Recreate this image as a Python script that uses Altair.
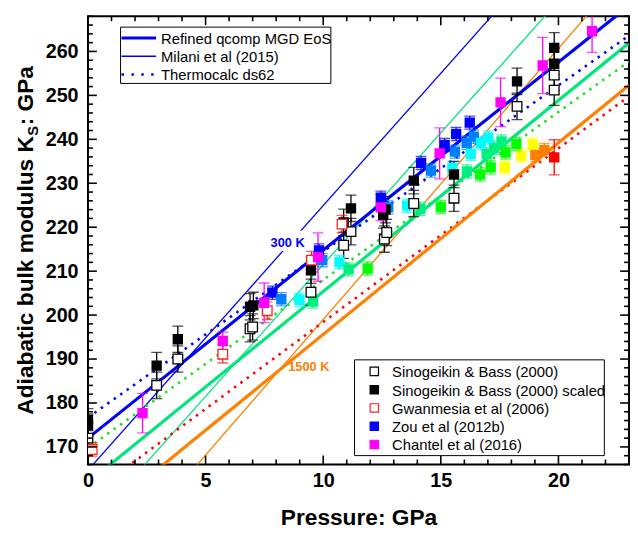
import altair as alt
import pandas as pd

FONT = "Liberation Sans"

# ---------------- data ----------------
# model curves: K_S (GPa) read at P = 0 and P = 23 GPa
curve_P = [0.0, 23.0]
refined_300 = [172.0, 270.4]
refined_mid = [161.9, 261.9]
refined_1500 = [152.0, 252.3]
milani_300 = [164.7, 303.2]
milani_mid = [151.5, 289.5]
milani_1500 = [137.3, 279.2]
thermo_300 = [176.7, 263.6]
thermo_mid = [169.8, 257.7]
thermo_1500 = [158.9, 249.8]

# Sinogeikin & Bass (2000), open black
sb_P = [0.0, 2.92, 3.82, 6.89, 7.0, 9.48, 10.87, 11.18, 12.6, 12.7, 13.85, 15.56, 18.24, 19.82, 19.82]
sb_K = [172.0, 184.0, 190.0, 196.9, 197.3, 205.2, 215.9, 219.0, 217.3, 218.8, 225.4, 226.6, 247.5, 254.6, 251.2]
sb_err = [2.5, 3.0, 3.0, 3.0, 3.0, 3.0, 3.0, 3.0, 3.0, 3.0, 3.0, 3.0, 3.0, 3.5, 3.5]

# Sinogeikin & Bass (2000) scaled, filled black
sbs_P = [0.0, 0.0, 2.92, 3.82, 6.89, 7.03, 9.48, 10.87, 11.18, 12.55, 12.65, 13.85, 15.56, 18.24, 19.82, 19.82]
sbs_K = [176.2, 175.0, 188.5, 194.5, 201.9, 202.2, 210.2, 221.1, 224.3, 222.8, 224.0, 230.6, 232.0, 253.2, 260.8, 257.2]
sbs_err = [2.5, 2.5, 3.0, 3.0, 3.0, 3.0, 3.0, 3.0, 3.0, 3.0, 3.0, 3.0, 3.0, 3.0, 3.5, 3.5]

# Gwanmesia et al (2006), open red
gw_P = [0.18, 5.73, 7.62, 9.5, 10.8]
gw_K = [169.4, 191.1, 201.0, 212.5, 220.7]
gw_err = [1.5, 2.0, 2.0, 2.0, 2.0]

# Chantel et al (2016), filled magenta
ch_P = [2.32, 5.73, 7.49, 9.78, 12.45, 14.95, 17.54, 19.33, 21.43]
ch_K = [177.7, 194.1, 202.8, 213.2, 224.5, 236.8, 248.4, 256.8, 264.6]
ch_err = [4.5, 2.0, 4.5, 5.5, 3.0, 5.8, 5.5, 6.4, 4.8]

# Zou et al (2012b), filled, coloured by temperature step
zou_T = ["T0"] * 7 + ["T1"] * 7 + ["T2"] * 7 + ["T3"] * 7 + ["T4"] * 6 + ["T5"] * 3 + ["T6"] * 2 + ["T7"]
zou_P = [7.84, 9.82, 12.45, 14.16, 15.16, 15.65, 16.23,
         8.22, 9.96, 12.76, 14.58, 15.6, 16.1, 16.4,
         8.99, 10.69, 13.57, 15.49, 16.27, 16.7, 17.02,
         9.57, 11.08, 14.13, 16.11, 16.95, 17.27, 17.58,
         11.89, 15.0, 16.67, 17.12, 17.75, 18.21,
         17.72, 18.42, 18.91,
         19.02, 19.4,
         19.82]
zou_K = [205.1, 214.7, 226.7, 234.6, 238.7, 241.2, 243.8,
         203.6, 212.5, 224.5, 232.9, 237.2, 239.2, 240.6,
         203.5, 212.1, 224.9, 233.5, 236.7, 239.1, 240.4,
         203.1, 210.4, 224.2, 232.7, 236.6, 238.0, 239.5,
         210.6, 224.6, 232.0, 233.6, 237.0, 238.9,
         233.6, 236.3, 238.8,
         236.4, 237.6,
         235.9]
zou_err = [1.5] * 39 + [4.0]

x_major = [0, 5, 10, 15, 20]
x_minor = [v for v in range(1, 23) if v % 5 != 0]
y_major = [170, 180, 190, 200, 210, 220, 230, 240, 250, 260]
y_minor = [v for v in range(166, 269, 2) if v % 10 != 0]

# ---------------- styles ----------------
T_COL = {"T0": "#0000FF", "T1": "#0080FF", "T2": "#00FFFF", "T3": "#00F080",
         "T4": "#00FF00", "T5": "#FFFF00", "T6": "#FF8000", "T7": "#FF0000"}
C_BLUE, C_GREEN, C_ORANGE = "#0000FF", "#00E67A", "#FF8000"
C_LGREEN, C_RED = "#22DD22", "#FF0000"

W, H = 548, 454
xscale = alt.Scale(domain=[0, 23], nice=False, zero=False)
yscale = alt.Scale(domain=[166, 268], nice=False, zero=False)
AX = dict(ticks=False, domain=False, grid=False, labelFlush=False,
          labelFont=FONT, labelFontSize=20, labelFontWeight="bold", labelColor="black",
          titleFont=FONT, titleFontSize=23, titleFontWeight="bold", titleColor="black")
xaxis = alt.Axis(values=x_major, title="Pressure: GPa", labelPadding=6, titleY=61,
                 titleBaseline="alphabetic", **AX)
yaxis = alt.Axis(values=y_major, title=None, labelPadding=10, **AX)


def X(f):
    return alt.X(f, type="quantitative", scale=xscale, axis=xaxis)


def Y(f):
    return alt.Y(f, type="quantitative", scale=yscale, axis=yaxis)


layers = []

# model curves
curves = [
    (milani_300, C_BLUE, 1.3, None), (milani_mid, C_GREEN, 1.3, None), (milani_1500, C_ORANGE, 1.3, None),
    (thermo_300, C_BLUE, 2.6, [2.5, 5.5]), (thermo_mid, C_LGREEN, 2.6, [2.5, 5.5]), (thermo_1500, C_RED, 2.6, [2.5, 5.5]),
    (refined_300, C_BLUE, 3.2, None), (refined_mid, C_GREEN, 3.2, None), (refined_1500, C_ORANGE, 3.2, None),
]
for vals, col, sw, dash in curves:
    df = pd.DataFrame({"P": curve_P, "K": vals})
    kw = dict(color=col, strokeWidth=sw, clip=True)
    if dash:
        kw["strokeDash"] = dash
    layers.append(alt.Chart(df).mark_line(**kw).encode(x=X("P"), y=Y("K")))

# temperature labels
lab = pd.DataFrame({"P": [7.76], "K": [215.6], "t": ["300 K"]})
lab_bg = pd.DataFrame({"P": [7.65], "P2": [9.25], "K": [214.6], "K2": [219.2]})
layers.append(alt.Chart(lab_bg).mark_rect(color="white").encode(x=X("P"), x2="P2", y=Y("K"), y2="K2"))
layers.append(alt.Chart(lab).mark_text(font=FONT, fontSize=13, fontWeight="bold", color=C_BLUE,
                                       align="left", baseline="alphabetic").encode(x=X("P"), y=Y("K"), text="t"))
lab2 = pd.DataFrame({"P": [8.51], "K": [187.3], "t": ["1500 K"]})
layers.append(alt.Chart(lab2).mark_text(font=FONT, fontSize=13, fontWeight="bold", color=C_ORANGE,
                                        align="left", baseline="alphabetic").encode(x=X("P"), y=Y("K"), text="t"))

# points tables
zou = pd.DataFrame({"P": zou_P, "K": zou_K, "e": zou_err, "col": [T_COL[t] for t in zou_T]})
sb = pd.DataFrame({"P": sb_P, "K": sb_K, "e": sb_err, "col": "black"})
sbs = pd.DataFrame({"P": sbs_P, "K": sbs_K, "e": sbs_err, "col": "black"})
gw = pd.DataFrame({"P": gw_P, "K": gw_K, "e": gw_err, "col": "#FF2020"})
ch = pd.DataFrame({"P": ch_P, "K": ch_K, "e": ch_err, "col": "#FF00FF"})
allerr = pd.concat([zou, sb, sbs, gw, ch], ignore_index=True)
allerr["lo"] = allerr["K"] - allerr["e"]
allerr["hi"] = allerr["K"] + allerr["e"]

colr = alt.Color("col:N", scale=None)
layers.append(alt.Chart(allerr).mark_rule(strokeWidth=1.3, clip=True)
              .encode(x=X("P"), y=Y("lo"), y2="hi", color=colr))
for f in ["lo", "hi"]:
    layers.append(alt.Chart(allerr).mark_tick(orient="horizontal", size=11, thickness=1.3, clip=True)
                  .encode(x=X("P"), y=Y(f), color=colr))

layers.append(alt.Chart(zou).mark_square(size=110, opacity=1, clip=True)
              .encode(x=X("P"), y=Y("K"), color=colr))
layers.append(alt.Chart(sb).mark_square(size=95, filled=True, fill="white", stroke="black",
                                        strokeWidth=1.3, opacity=1, clip=True).encode(x=X("P"), y=Y("K")))
layers.append(alt.Chart(sbs).mark_square(size=110, opacity=1, color="black", clip=True)
              .encode(x=X("P"), y=Y("K")))
layers.append(alt.Chart(gw).mark_square(size=95, filled=True, fill="white", stroke="#FF2020",
                                        strokeWidth=1.3, opacity=1, clip=True).encode(x=X("P"), y=Y("K")))
layers.append(alt.Chart(ch).mark_square(size=110, opacity=1, color="#FF00FF", clip=True)
              .encode(x=X("P"), y=Y("K")))

# inward ticks on all four sides
xt = pd.DataFrame({"P": x_major})
xm = pd.DataFrame({"P": x_minor})
yt = pd.DataFrame({"K": y_major})
ym = pd.DataFrame({"K": y_minor})
for d, ln in [(xt, 9), (xm, 5)]:
    layers.append(alt.Chart(d).mark_rule(color="black", strokeWidth=1.6)
                  .encode(x=X("P"), y=alt.value(H), y2=alt.value(H - ln)))
    layers.append(alt.Chart(d).mark_rule(color="black", strokeWidth=1.6)
                  .encode(x=X("P"), y=alt.value(0), y2=alt.value(ln)))
for d, ln in [(yt, 9), (ym, 5)]:
    layers.append(alt.Chart(d).mark_rule(color="black", strokeWidth=1.6)
                  .encode(y=Y("K"), x=alt.value(0), x2=alt.value(ln)))
    layers.append(alt.Chart(d).mark_rule(color="black", strokeWidth=1.6)
                  .encode(y=Y("K"), x=alt.value(W), x2=alt.value(W - ln)))

dummy = pd.DataFrame({"d": [0]})


def text_at(s, x, y, size, color="black", weight="normal", align="left", baseline="middle", angle=0):
    kw = dict(text=s, font=FONT, fontSize=size, fontWeight=weight, color=color,
              align=align, baseline=baseline)
    if angle:
        kw["angle"] = angle
    return alt.Chart(dummy).mark_text(**kw).encode(x=alt.value(x), y=alt.value(y))


# y-axis title with subscript
layers.append(text_at("Adiabatic bulk modulus K", -56, 403.5, 23, weight="bold",
                      baseline="alphabetic", angle=270))
layers.append(text_at("S", -51, 121, 15, weight="bold", baseline="alphabetic", angle=270))
layers.append(text_at(": GPa", -56, 110.5, 23, weight="bold", baseline="alphabetic", angle=270))

# legend 1: model curves
layers.append(alt.Chart(dummy).mark_rect(fill="white", stroke="black", strokeWidth=1)
              .encode(x=alt.value(33), x2=alt.value(246), y=alt.value(11), y2=alt.value(68)))
leg1_labels = ["Refined qcomp MGD EoS", "Milani et al (2015)", "Thermocalc ds62"]
leg1_styles = [(3.2, None), (1.3, None), (2.6, [2.5, 7.5])]
for i, (lb, (sw, dash)) in enumerate(zip(leg1_labels, leg1_styles)):
    yy = 22 + 18.5 * i
    kw = dict(color=C_BLUE, strokeWidth=sw)
    if dash:
        kw["strokeDash"] = dash
    layers.append(alt.Chart(dummy).mark_rule(**kw)
                  .encode(x=alt.value(34), x2=alt.value(69), y=alt.value(yy)))
    layers.append(text_at(lb, 74, yy + 1, 15))

# legend 2: data sets
layers.append(alt.Chart(dummy).mark_rect(fill="white", stroke="black", strokeWidth=1)
              .encode(x=alt.value(270), x2=alt.value(523), y=alt.value(348), y2=alt.value(445)))
leg2_labels = ["Sinogeikin & Bass (2000)", "Sinogeikin & Bass (2000) scaled",
               "Gwanmesia et al (2006)", "Zou et al (2012b)", "Chantel et al (2016)"]
leg2_styles = [("white", "black"), ("black", "black"), ("white", "#FF2020"),
               ("#0000FF", "#0000FF"), ("#FF00FF", "#FF00FF")]
for i, (lb, (fc, sc)) in enumerate(zip(leg2_labels, leg2_styles)):
    yy = 359.7 + 18.5 * i
    layers.append(alt.Chart(dummy).mark_square(size=72, filled=True, fill=fc, stroke=sc,
                                               strokeWidth=1.2, opacity=1)
                  .encode(x=alt.value(290), y=alt.value(yy)))
    layers.append(text_at(lb, 308, yy + 1, 15))

chart = alt.layer(*layers).properties(
    width=W, height=H,
    background="white",
    autosize=alt.AutoSizeParams(type="none"),
    padding={"left": 81, "top": 5, "right": 1, "bottom": 66},
).configure_view(stroke="black", strokeWidth=2)

chart.save("out.html", embed_options={"renderer": "svg", "actions": False})
